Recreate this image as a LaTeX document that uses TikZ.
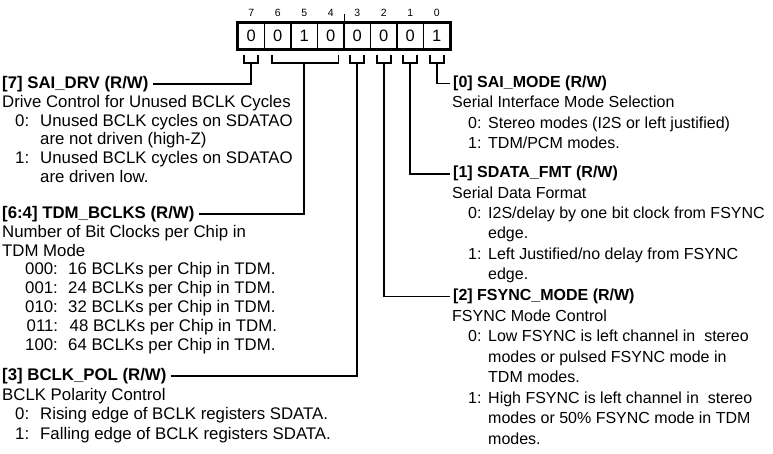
\documentclass[tikz,border=0pt]{standalone}
\usepackage{fontspec}
\setmainfont{Liberation Sans}
\begin{document}
\begin{tikzpicture}[x=1pt,y=-1pt]
\useasboundingbox (0,0) rectangle (773,454);
\tikzset{
  txt/.style={anchor=base west, inner sep=0pt, font=\fontsize{16.8}{19}\selectfont},
  head/.style={anchor=base west, inner sep=0pt, font=\fontsize{16.8}{19}\selectfont\bfseries},
  rtxt/.style={anchor=base west, inner sep=0pt, font=\fontsize{16}{19}\selectfont},
  rhead/.style={anchor=base west, inner sep=0pt, font=\fontsize{16}{19}\selectfont\bfseries},
  cellbox/.style={draw, line width=1.6pt, minimum width=26.5pt, minimum height=26pt, inner sep=0pt, font=\fontsize{16.5}{18}\selectfont},
  bitno/.style={inner sep=0pt, font=\fontsize{10.5}{12}\selectfont},
  wire/.style={line width=1.6pt}
}
% register cells
\foreach \b/\v [count=\i from 0] in {7/0,6/0,5/1,4/0,3/0,2/0,1/0,0/1}{
  \node[cellbox] (c\b) at ({251.25+26.5*\i},36) {\v};
  \node[bitno] (n\b) at ({251.25+26.5*\i},13) {\b};
}
\draw[line width=2pt] (c7.north west) rectangle (c0.south east);
\draw[line width=1pt] (c4.north east) -- ++(0,-8);
% brackets
\foreach \b/\l/\r in {7/244.25/258.25, 3/350.25/364.25, 2/376.75/390.75, 1/403.25/417.25, 0/429.75/443.75}{
  \draw[wire] (\l,55) -- (\l,63) -- (\r,63) -- (\r,55);
  \coordinate (k\b) at ({(\l+\r)/2},63);
}
\draw[wire] (272,55) -- (272,63) -- (338.5,63) -- (338.5,55);
\coordinate (k64) at (304.25,63);

% ---------- left column ----------
\node[head] (h7) at (2,88.5) {[7] SAI\_DRV (R/W)};
\node[txt] (d7) at (2,107.3) {Drive Control for Unused BCLK Cycles};
\node[txt] (d7a) at (15,126.1) {0:};
\node[txt] (d7b) at (40,126.1) {Unused BCLK cycles on SDATAO};
\node[txt] (d7c) at (40,144.9) {are not driven (high-Z)};
\node[txt] (d7d) at (15,163.7) {1:};
\node[txt] (d7e) at (40,163.7) {Unused BCLK cycles on SDATAO};
\node[txt] (d7f) at (40,182.5) {are driven low.};

\node[head] (h64) at (2,218.5) {[6:4] TDM\_BCLKS (R/W)};
\node[txt] (d6a) at (2,237.3) {Number of Bit Clocks per Chip in};
\node[txt] (d6b) at (2,256.1) {TDM Mode};
\node[txt] (d6c) at (25,274.9) {000:};
\node[txt] (d6d) at (68,274.9) {16 BCLKs per Chip in TDM.};
\node[txt] (d6e) at (25,293.7) {001:};
\node[txt] (d6f) at (68,293.7) {24 BCLKs per Chip in TDM.};
\node[txt] (d6g) at (25,312.5) {010:};
\node[txt] (d6h) at (68,312.5) {32 BCLKs per Chip in TDM.};
\node[txt] (d6i) at (26.5,331.3) {011:};
\node[txt] (d6j) at (69.5,331.3) {48 BCLKs per Chip in TDM.};
\node[txt] (d6k) at (25,350.1) {100:};
\node[txt] (d6l) at (68,350.1) {64 BCLKs per Chip in TDM.};

\node[head] (h3) at (2,380.5) {[3] BCLK\_POL (R/W)};
\node[txt] (d3a) at (2,400) {BCLK Polarity Control};
\node[txt] (d3b) at (15,419.5) {0:};
\node[txt] (d3c) at (40,419.5) {Rising edge of BCLK registers SDATA.};
\node[txt] (d3d) at (15,439) {1:};
\node[txt] (d3e) at (40,439) {Falling edge of BCLK registers SDATA.};

% ---------- right column ----------
\node[rhead] (h0) at (453,87.5) {[0] SAI\_MODE (R/W)};
\node[rtxt] (d0a) at (452,107.8) {Serial Interface Mode Selection};
\node[rtxt] (d0b) at (468,128.1) {0:};
\node[rtxt] (d0c) at (488,128.1) {Stereo modes (I2S or left justified)};
\node[rtxt] (d0d) at (468,148.4) {1:};
\node[rtxt] (d0e) at (488,148.4) {TDM/PCM modes.};

\node[rhead] (h1) at (453,178) {[1] SDATA\_FMT (R/W)};
\node[rtxt] (d1a) at (452,198.3) {Serial Data Format};
\node[rtxt] (d1b) at (468,218.6) {0:};
\node[rtxt] (d1c) at (488,218.6) {I2S/delay by one bit clock from FSYNC};
\node[rtxt] (d1d) at (488,238.9) {edge.};
\node[rtxt] (d1e) at (468,259.2) {1:};
\node[rtxt] (d1f) at (488,259.2) {Left Justified/no delay from FSYNC};
\node[rtxt] (d1g) at (488,279.5) {edge.};

\node[rhead] (h2) at (453,300.5) {[2] FSYNC\_MODE (R/W)};
\node[rtxt] (d2a) at (452,321) {FSYNC Mode Control};
\node[rtxt] (d2b) at (468,341.5) {0:};
\node[rtxt] (d2c) at (488,341.5) {Low FSYNC is left channel in\ \ stereo};
\node[rtxt] (d2d) at (488,362) {modes or pulsed FSYNC mode in};
\node[rtxt] (d2e) at (488,382.5) {TDM modes.};
\node[rtxt] (d2f) at (468,403) {1:};
\node[rtxt] (d2g) at (488,403) {High FSYNC is left channel in\ \ stereo};
\node[rtxt] (d2h) at (488,423.5) {modes or 50\% FSYNC mode in TDM};
\node[rtxt] (d2i) at (488,444) {modes.};

% ---------- connectors ----------
\draw[wire] ([xshift=4pt]h7.east) -| (k7);
\draw[wire] ([xshift=4pt]h64.east) -| (k64);
\draw[wire] ([xshift=4pt]h3.east) -| (k3);
\draw[wire] (k0) |- ([xshift=-3pt]h0.west);
\draw[wire] (k1) |- ([xshift=-3pt]h1.west);
\draw[wire] (k2) |- ([xshift=-3pt]h2.west);
\end{tikzpicture}
\end{document}
